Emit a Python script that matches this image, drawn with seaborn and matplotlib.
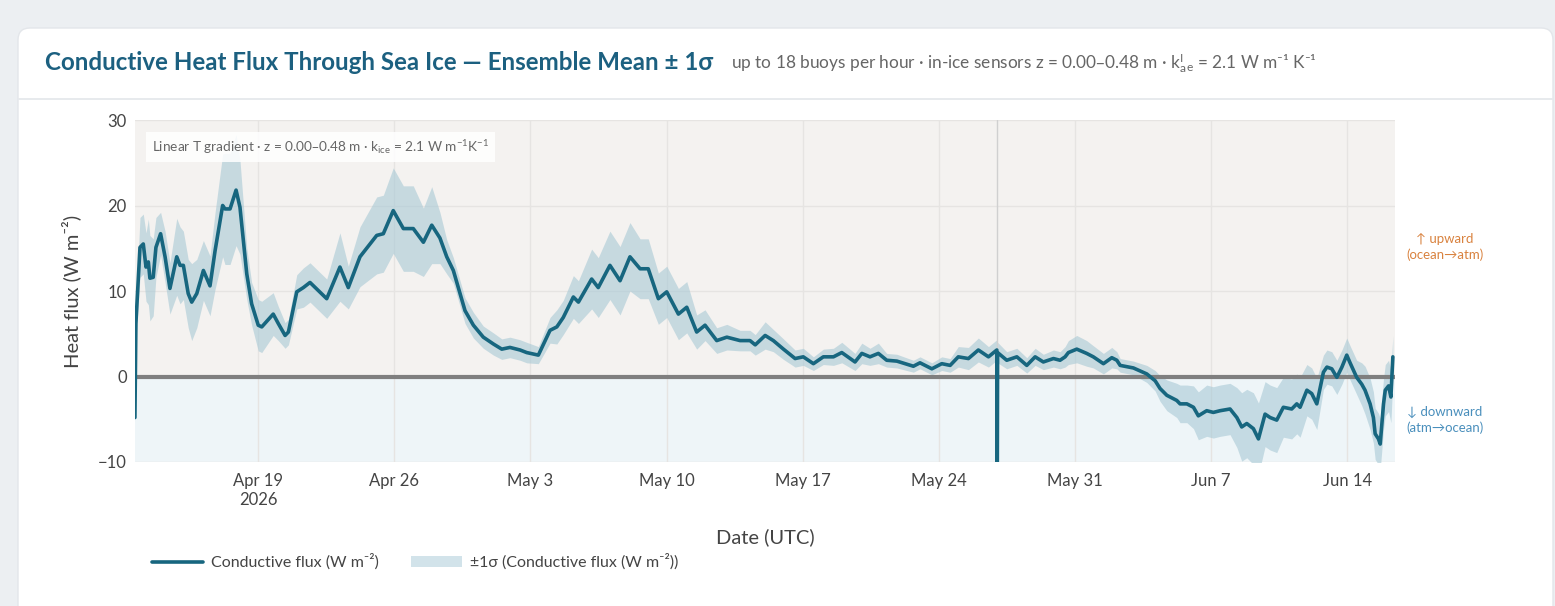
import numpy as np
import pandas as pd
import matplotlib
matplotlib.use("Agg")
import matplotlib.pyplot as plt
import seaborn as sns
from matplotlib.patches import FancyBboxPatch, Patch
from matplotlib.lines import Line2D
from matplotlib.transforms import IdentityTransform

# ---- data ----
START = pd.Timestamp("2026-04-12")

# days since START
day_offset = [
    0.67, 0.72, 0.93, 1.10, 1.24, 1.36, 1.44, 1.61, 1.75, 1.99,
    2.22, 2.47, 2.82, 2.99, 3.16, 3.41, 3.59, 3.85, 4.19, 4.53,
    4.79, 5.18, 5.30, 5.56, 5.87, 6.07, 6.42, 6.67, 7.01, 7.19,
    7.78, 8.04, 8.39, 8.56, 8.99, 9.33, 9.67, 10.53, 11.21, 11.64,
    12.24, 13.10, 13.44, 13.95, 14.47, 14.98, 15.50, 15.93, 16.35, 16.70,
    17.04, 17.64, 18.07, 18.58, 19.10, 19.53, 19.95, 20.47, 20.81, 21.41,
    22.01, 22.36, 22.69, 23.21, 23.47, 24.15, 24.49, 25.09, 25.61, 26.12,
    26.64, 27.06, 27.58, 28.01, 28.61, 29.04, 29.55, 29.98, 30.58, 31.10,
    31.78, 32.29, 32.56, 33.07, 33.49, 34.01, 34.61, 35.03, 35.55, 36.06,
    36.58, 37.01, 37.69, 38.04, 38.46, 38.89, 39.32, 39.84, 40.69, 41.03,
    41.64, 42.15, 42.58, 43.00, 43.52, 44.03, 44.55, 44.98, 45.00, 45.02,
    45.49, 46.01, 46.52, 46.95, 47.37, 47.89, 48.23, 48.49, 48.66, 49.09,
    49.60, 49.94, 50.46, 50.89, 51.15, 51.32, 52.00, 52.69, 53.12, 53.37,
    53.72, 54.23, 54.40, 54.75, 55.09, 55.34, 55.77, 56.11, 56.46, 56.97,
    57.32, 57.57, 57.83, 58.17, 58.43, 58.77, 59.03, 59.37, 59.71, 60.14,
    60.40, 60.57, 60.92, 61.17, 61.43, 61.77, 61.95, 62.20, 62.46, 62.72,
    62.97, 63.14, 63.48, 63.74, 63.91, 64.17, 64.34, 64.43, 64.60, 64.69,
    64.86, 64.95, 65.12, 65.24, 65.34,
]

flux_mean = [
    -4.8, 6.2, 15.1, 15.5, 12.8, 13.4, 11.5, 11.6, 15.1, 16.7,
    14.0, 10.3, 14.0, 13.0, 13.0, 9.7, 8.7, 9.7, 12.4, 10.6,
    14.7, 20.0, 19.6, 19.6, 21.8, 19.8, 12.0, 8.5, 6.0, 5.8,
    7.3, 6.2, 4.8, 5.2, 9.9, 10.4, 11.0, 9.1, 12.8, 10.4,
    14.0, 16.5, 16.7, 19.4, 17.3, 17.3, 15.7, 17.7, 16.2, 14.0,
    12.4, 7.7, 6.0, 4.6, 3.8, 3.2, 3.4, 3.1, 2.8, 2.5,
    5.4, 5.8, 6.9, 9.3, 8.7, 11.4, 10.4, 13.0, 11.2, 14.0,
    12.6, 12.6, 9.1, 9.9, 7.3, 8.1, 5.2, 6.0, 4.2, 4.6,
    4.2, 4.2, 3.7, 4.8, 4.2, 3.2, 2.1, 2.3, 1.5, 2.3,
    2.3, 2.8, 1.7, 2.7, 2.3, 2.7, 1.9, 1.8, 1.2, 1.6,
    0.9, 1.5, 1.3, 2.3, 2.1, 3.1, 2.3, 3.1, -15.0, 2.8,
    1.9, 2.3, 1.3, 2.3, 1.7, 2.1, 1.9, 2.3, 2.8, 3.2,
    2.7, 2.3, 1.5, 2.2, 1.9, 1.3, 1.0, 0.3, -0.5, -1.4,
    -2.2, -2.8, -3.2, -3.2, -3.6, -4.6, -4.0, -4.2, -4.0, -3.8,
    -4.8, -5.9, -5.5, -6.1, -7.3, -4.4, -4.8, -5.1, -3.6, -3.8,
    -3.2, -3.6, -1.6, -2.0, -3.2, 0.5, 1.1, 0.9, -0.1, 1.1,
    2.5, 1.6, -0.1, -0.9, -1.6, -3.2, -4.8, -6.7, -7.3, -7.9,
    -3.2, -1.6, -1.1, -2.4, 2.3,
]

flux_sigma = [
    0.5, 2.0, 3.5, 3.5, 4.0, 5.0, 5.0, 4.5, 3.5, 2.5,
    3.0, 3.0, 4.5, 4.5, 4.0, 4.0, 4.5, 4.0, 3.5, 3.5,
    4.5, 6.0, 6.5, 6.5, 6.5, 5.5, 3.0, 2.5, 3.0, 3.0,
    2.5, 2.0, 1.5, 1.5, 2.0, 2.3, 2.3, 2.3, 4.0, 2.5,
    3.5, 4.5, 4.5, 5.0, 5.0, 5.0, 4.0, 4.5, 3.0, 2.0,
    1.5, 1.5, 1.5, 1.3, 1.3, 1.2, 1.2, 1.2, 1.2, 1.0,
    1.5, 2.0, 2.0, 2.5, 2.5, 3.5, 3.5, 4.0, 4.0, 4.0,
    3.5, 3.5, 3.0, 3.0, 3.0, 3.0, 2.0, 1.8, 1.5, 1.5,
    1.2, 1.2, 1.2, 1.6, 1.3, 1.2, 1.0, 1.0, 0.8, 0.9,
    1.0, 1.2, 1.0, 1.2, 1.0, 1.2, 0.8, 0.8, 0.7, 0.7,
    0.7, 0.8, 0.8, 1.2, 1.3, 1.4, 1.2, 1.2, 0.0, 1.2,
    1.0, 1.0, 0.9, 1.0, 0.9, 1.0, 1.0, 1.2, 1.4, 1.6,
    1.5, 1.3, 1.2, 1.2, 1.0, 0.8, 0.8, 1.0, 1.2, 1.5,
    1.8, 2.0, 2.2, 2.2, 2.5, 2.8, 3.0, 3.0, 3.0, 3.0,
    3.5, 4.0, 4.0, 4.2, 4.2, 3.8, 3.8, 3.8, 3.5, 3.5,
    3.5, 3.5, 3.0, 3.0, 3.0, 2.0, 2.0, 2.0, 2.0, 2.0,
    2.0, 2.0, 2.0, 2.5, 2.8, 3.0, 3.0, 3.0, 3.0, 3.0,
    3.0, 3.0, 3.0, 3.0, 2.5,
]

tick_dates = ["2026-04-19", "2026-04-26", "2026-05-03", "2026-05-10", "2026-05-17",
              "2026-05-24", "2026-05-31", "2026-06-07", "2026-06-14"]
tick_labels = ["Apr 19\n2026", "Apr 26", "May 3", "May 10", "May 17",
               "May 24", "May 31", "Jun 7", "Jun 14"]
y_ticks = [-10, 0, 10, 20, 30]

marker_day = 45.0  # grey vertical marker line

# ---- styling ----
LINE = "#17667f"
BAND = "#a8c9d5"
TEXT = "#444444"
W, H = 1555, 606

sns.set_theme(style="white")
plt.rcParams["font.family"] = ["Lato", "DejaVu Sans"]

df = pd.DataFrame({
    "time": START + pd.to_timedelta(day_offset, unit="D"),
    "flux": flux_mean,
    "sigma": flux_sigma,
})
df["lo"] = df["flux"] - df["sigma"]
df["hi"] = df["flux"] + df["sigma"]

fig = plt.figure(figsize=(W / 100, H / 100), dpi=100)
fig.patch.set_facecolor("#eceff2")

# white card
card = FancyBboxPatch((18, -20), 1535, H - 28 + 20,
                      boxstyle="round,pad=0,rounding_size=12",
                      transform=IdentityTransform(), facecolor="white",
                      edgecolor="#e3e6ea", lw=1, zorder=0)
fig.add_artist(card)
fig.add_artist(Line2D([19 / W, 1552 / W], [1 - 99 / H] * 2, transform=fig.transFigure,
                      color="#e3e6ea", lw=1.2))

title = fig.text(45 / W, 1 - 63 / H,
                 "Conductive Heat Flux Through Sea Ice \u2014 Ensemble Mean \u00b1 1\u03c3",
                 fontsize=17.4, weight="bold", color="#1c6080", va="center")
fig.canvas.draw()
bb = title.get_window_extent()
fig.text((bb.x1 + 18) / W, 1 - 63 / H,
         "up to 18 buoys per hour \u00b7 in-ice sensors z = 0.00\u20130.48 m \u00b7 "
         "k$\\mathregular{_{a}^{I}}$$\\mathregular{_{e}}$ = 2.1 W m\u207b\u00b9 K\u207b\u00b9",
         fontsize=12.4, color="#666666", va="center")

ax = fig.add_axes([135 / W, 1 - 462 / H, 1260 / W, 342 / H])
ax.set_facecolor("white")
ax.axhspan(0, 30, color="#f4f2f0", zorder=0, lw=0)
ax.axhspan(-10, 0, color="#eef5f8", zorder=0, lw=0)
ax.grid(True, color="#e6e4e2", lw=1)
ax.set_axisbelow(True)

ax.fill_between(df["time"], df["lo"], df["hi"], color=BAND, alpha=0.6, lw=0, zorder=1)
ax.axhline(0, color="#7f7f7f", lw=3, zorder=2)
ax.axvline(START + pd.Timedelta(days=marker_day), color="#d0d0d0", lw=1, zorder=1.5)
sns.lineplot(data=df, x="time", y="flux", ax=ax, color=LINE, lw=2.6,
             errorbar=None, legend=False, zorder=3)

ax.set_xlim(START + pd.Timedelta(days=0.674), START + pd.Timedelta(days=65.45))
ax.set_ylim(-10, 30)
ax.set_yticks(y_ticks)
ax.set_yticklabels(["\u221210", "0", "10", "20", "30"])
ax.set_xticks(pd.to_datetime(tick_dates))
ax.set_xticklabels(tick_labels)
ax.tick_params(axis="both", length=0, labelsize=12, labelcolor=TEXT)
ax.tick_params(axis="x", pad=8)
ax.tick_params(axis="y", pad=6)
sns.despine(ax=ax, left=True, bottom=True)

ax.set_ylabel("Heat flux (W m\u207b\u00b2)", fontsize=14.5, color=TEXT)
ax.yaxis.set_label_coords(-0.043, 0.5)
ax.set_xlabel("Date (UTC)", fontsize=14.5, color=TEXT)
ax.xaxis.set_label_coords(0.5, -0.195)

ax.text(0.0135, 0.921,
        "Linear T gradient \u00b7 z = 0.00\u20130.48 m \u00b7 k$\\mathregular{_{ice}}$ = 2.1 W "
        "m$\\mathregular{^{-1}}$K$\\mathregular{^{-1}}$",
        transform=ax.transAxes, fontsize=9.8, color="#666666", va="center", ha="left",
        bbox=dict(boxstyle="square,pad=0.45", fc="white", ec="none", alpha=0.85), zorder=5)

fig.text(1445 / W, 1 - 247 / H, "\u2191 upward\n(ocean\u2192atm)", fontsize=9.5,
         color="#d9823f", ha="center", va="center", linespacing=1.3)
fig.text(1445 / W, 1 - 420 / H, "\u2193 downward\n(atm\u2192ocean)", fontsize=9.5,
         color="#4a8fbc", ha="center", va="center", linespacing=1.3)

handles = [Line2D([], [], color=LINE, lw=2.6),
           Patch(facecolor="#d2e3ea", edgecolor="none")]
fig.legend(handles, ["Conductive flux (W m\u207b\u00b2)", "\u00b11\u03c3 (Conductive flux (W m\u207b\u00b2))"],
           loc="center left", bbox_to_anchor=(138 / W, 1 - 562 / H), ncol=2, frameon=False,
           fontsize=11.5, labelcolor=TEXT, handlelength=3.2, columnspacing=2.0,
           handletextpad=0.5)

fig.savefig("out.png", dpi=100, facecolor=fig.get_facecolor())
